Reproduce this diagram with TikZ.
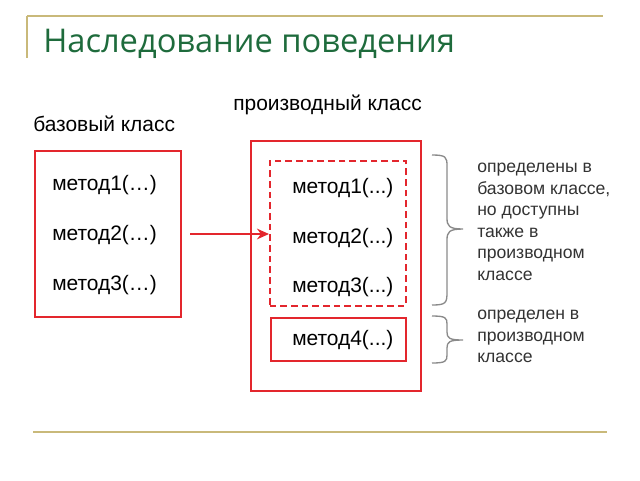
\documentclass[tikz,border=0pt]{standalone}
\usepackage{fontspec}
\setmainfont{Liberation Sans}
\newfontfamily\titlefont{Open Sans}
\usetikzlibrary{arrows.meta}
\definecolor{boxred}{HTML}{E3262D}
\definecolor{rulegold}{HTML}{C9B97A}
\definecolor{titlegreen}{HTML}{1E6B3C}
\definecolor{bracegray}{HTML}{8A8A8A}
\tikzset{
  meth/.style={anchor=base west, inner sep=0pt, font=\fontsize{15.7}{18}\selectfont},
  lbl/.style={anchor=base west, inner sep=0pt, font=\fontsize{15.7}{18}\selectfont},
  note/.style={anchor=north west, inner sep=0pt, align=left, font=\fontsize{13.2}{16.1}\selectfont, text=black!80},
  redbox/.style={draw=boxred, line width=1.2pt},
  bracepath/.style={draw=bracegray, line width=1pt},
}
\begin{document}
\begin{tikzpicture}[x=0.75pt,y=-0.75pt]
\useasboundingbox (0,0) rectangle (640,480);
% rules
\draw[rulegold, line width=1.5pt] (27,16) -- (603,16);
\draw[rulegold, line width=1.5pt] (27,16) -- (27,58);
\draw[rulegold, line width=2pt] (33,432) -- (607,432);
% title
\node[anchor=base west, inner sep=0pt, text=titlegreen, font=\titlefont\fontsize{24.5}{28}\selectfont] (title) at (43,52) {Наследование поведения};
% labels
\node[lbl] (baselbl) at (33,131) {базовый класс};
\node[lbl] (derlbl) at (233,110) {производный класс};
% base box
\node[redbox, minimum width=146*0.75pt, minimum height=166*0.75pt, anchor=north west, inner sep=0pt] (base) at (34,150) {};
\node[meth] (b1) at (52,190) {метод1(…)};
\node[meth] (b2) at (52,240) {метод2(…)};
\node[meth] (b3) at (52,290) {метод3(…)};
% derived box
\node[redbox, minimum width=170*0.75pt, minimum height=250*0.75pt, anchor=north west, inner sep=0pt] (der) at (250,140) {};
\node[draw=boxred, line width=1.2pt, dashed, dash pattern=on 5pt off 3pt, minimum width=136*0.75pt, minimum height=145*0.75pt, anchor=north west, inner sep=0pt] (inh) at (269,160) {};
\node[redbox, minimum width=135*0.75pt, minimum height=43*0.75pt, anchor=north west, inner sep=0pt] (own) at (270,317) {};
\node[meth] (d1) at (292,193) {метод1(...)};
\node[meth] (d2) at (292,243) {метод2(...)};
\node[meth] (d3) at (292,292) {метод3(...)};
\node[meth] (d4) at (292,345) {метод4(...)};
% arrow
\coordinate (astart) at (190,234);
\draw[boxred, line width=2pt, -{Stealth[length=9pt,width=8pt]}] (astart) -- (inh.west |- astart);
% braces
\coordinate (br1a) at (432,155);
\coordinate (br1b) at (432,305);
\coordinate (br1t) at (463,229);
\draw[bracepath] (br1a) .. controls (446,155) and (447,157) .. (447,166) -- (447,218)
  .. controls (447,226) and (449,229) .. (br1t)
  .. controls (449,229) and (447,232) .. (447,240) -- (447,292)
  .. controls (447,303) and (446,305) .. (br1b);
\coordinate (br2a) at (432,316);
\coordinate (br2b) at (432,363);
\coordinate (br2t) at (463,340);
\draw[bracepath] (br2a) .. controls (446,316) and (447,318) .. (447,324) -- (447,332)
  .. controls (447,338) and (449,340) .. (br2t)
  .. controls (449,340) and (447,342) .. (447,348) -- (447,355)
  .. controls (447,361) and (446,363) .. (br2b);
% notes
\node[note] (n1) at (477,163) {определены в\\базовом классе,\\но доступны\\также в\\производном\\классе};
\node[note] (n2) at (477,310) {определен в\\производном\\классе};
\end{tikzpicture}
\end{document}
